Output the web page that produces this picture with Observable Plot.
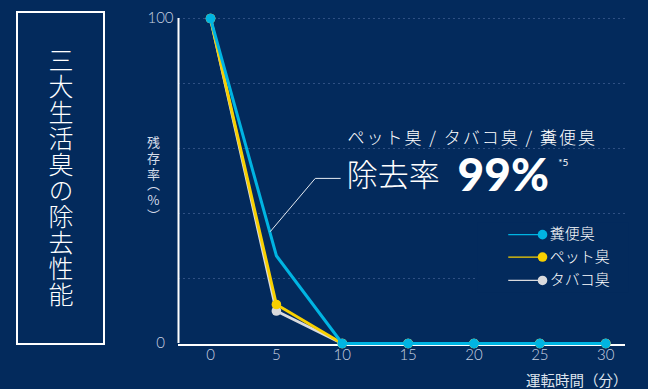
<!DOCTYPE html>
<html><head><meta charset="utf-8">
<script src="https://cdn.jsdelivr.net/npm/d3@7"></script>
<script src="https://cdn.jsdelivr.net/npm/@observablehq/plot@0.6"></script>
<style>
html,body{margin:0;padding:0;background:#032a5c;}
#wrap{position:relative;width:648px;height:389px;background:#032a5c;overflow:hidden;font-family:"Noto Sans CJK JP",sans-serif;}
#title{position:absolute;left:16px;top:11px;width:89px;height:334px;box-sizing:border-box;border:2px solid #fff;display:flex;align-items:center;justify-content:center;}
#title span{writing-mode:vertical-rl;font-size:25px;letter-spacing:1px;color:#fff;font-weight:300;line-height:1;}
#ylabel{position:absolute;left:147px;top:136px;writing-mode:vertical-rl;text-orientation:upright;font-size:13px;letter-spacing:3px;color:#d4dbe7;line-height:1;font-feature-settings:"vpal";}
#chart{position:absolute;left:0;top:0;}
</style>
</head><body>
<div id="wrap"><div id="title"><span></span></div><div id="ylabel"></div><div id="chart"></div></div>
<script>
const title = "三大生活臭の除去性能";
const yLabel = "残存率（%）";
const xLabel = "運転時間（分）";
const minutes = [0, 5, 10, 15, 20, 25, 30];
const fecal   = [100, 27, 0, 0, 0, 0, 0];
const pet     = [100, 12, 0, 0, 0, 0, 0];
const tobacco = [100, 10, 0, 0, 0, 0, 0];
const fecalMarker = [true, false, true, true, true, true, true];
const seriesNames = ["糞便臭", "ペット臭", "タバコ臭"];
const seriesColors = ["#00b4e2", "#f8d000", "#d9dadd"];
const xTicks = [0, 5, 10, 15, 20, 25, 30];
const yTicks = [0, 100];
const gridValues = [20, 40, 60, 80, 100];
const xDomain = [-2.43, 31.5];
const calloutHead = "ペット臭 / タバコ臭 / 糞便臭";
const calloutLabel = "除去率";
const calloutValue = "99%";
const calloutNote = "*5";
// callout & legend anchor points, in data units
const leaderX = [4.55, 7.95, 9.85];
const leaderY = [34.5, 50.8, 50.8];
const legendLineX = [22.6, 25.2];
const legendY = [33.5, 26.6, 19.4];
const legendBox = [{x1: 20.3, x2: 31.8, y1: 15.5, y2: 37}];

document.querySelector("#title span").textContent = title;
document.querySelector("#ylabel").textContent = yLabel;

const bg = "#032a5c";
const tickColor = "#c9d2e1";
const jp = "Noto Sans CJK JP";
const num = "Lato";
const rows = (vals) => minutes.map((m, i) => ({m, v: vals[i], i}));

const chart = Plot.plot({
  width: 648, height: 389,
  marginLeft: 178, marginRight: 23, marginTop: 18, marginBottom: 46,
  x: {domain: xDomain, axis: null},
  y: {domain: [0, 100], axis: null},
  style: {background: "transparent", overflow: "visible"},
  marks: [
    Plot.ruleY(gridValues, {x1: xDomain[0], x2: xDomain[1], stroke: "#2f5083", strokeDasharray: "2,3", strokeWidth: 1}),
    Plot.rect(legendBox, {x1: "x1", x2: "x2", y1: "y1", y2: "y2", fill: bg}),
    Plot.ruleX([xDomain[0]], {y1: 0, y2: 100, stroke: "#fff", strokeWidth: 2}),
    Plot.ruleY([0], {x1: xDomain[0], x2: xDomain[1], stroke: "#fff", strokeWidth: 2, dy: 1.5}),
    // series
    Plot.line(rows(tobacco), {x: "m", y: "v", stroke: seriesColors[2], strokeWidth: 3}),
    Plot.dot(rows(tobacco), {x: "m", y: "v", fill: seriesColors[2], r: 4.8}),
    Plot.line(rows(pet), {x: "m", y: "v", stroke: seriesColors[1], strokeWidth: 3}),
    Plot.dot(rows(pet), {x: "m", y: "v", fill: seriesColors[1], r: 4.8}),
    Plot.line(rows(fecal), {x: "m", y: "v", stroke: seriesColors[0], strokeWidth: 3}),
    Plot.dot(rows(fecal).filter(d => fecalMarker[d.i]), {x: "m", y: "v", fill: seriesColors[0], r: 4.8}),
    // ticks
    Plot.text(yTicks, {y: d => d, frameAnchor: "left", dx: -18, textAnchor: "middle", fill: tickColor, fontSize: 15, fontFamily: num, fontWeight: 300}),
    Plot.text(xTicks, {x: d => d, frameAnchor: "bottom", dy: 16, fill: tickColor, fontSize: 15, fontFamily: num, fontWeight: 300}),
    Plot.text([xLabel], {frameAnchor: "bottom-right", dx: 2, dy: 42, textAnchor: "end", fill: "#dfe5ee", fontSize: 14.5, fontFamily: jp}),
    // callout
    Plot.line(leaderX.map((x, i) => ({x, y: leaderY[i]})), {x: "x", y: "y", stroke: "#e6ebf2", strokeWidth: 1}),
    Plot.text([calloutHead], {x: 10.4, y: 63.2, textAnchor: "start", fill: "#fff", fontSize: 17, fontFamily: jp, fontWeight: 300}),
    Plot.text([calloutLabel], {x: 10.35, y: 51.5, textAnchor: "start", fill: "#fff", fontSize: 31, fontFamily: jp, fontWeight: 300}),
    Plot.text([calloutValue], {x: 18.75, y: 51.5, textAnchor: "start", fill: "#fff", fontSize: 46, fontFamily: num, fontWeight: 900}),
    Plot.text([calloutNote], {x: 26.4, y: 55.5, textAnchor: "start", fill: "#fff", fontSize: 10, fontFamily: num}),
    // legend
    Plot.link(seriesNames, {x1: legendLineX[0], x2: legendLineX[1], y1: (d, i) => legendY[i], y2: (d, i) => legendY[i], stroke: (d, i) => seriesColors[i], strokeWidth: 1.3}),
    Plot.dot(seriesNames, {x: legendLineX[1], y: (d, i) => legendY[i], fill: (d, i) => seriesColors[i], r: 4.8}),
    Plot.text(seriesNames, {x: 25.75, y: (d, i) => legendY[i], textAnchor: "start", fill: "#fff", fontSize: 15, fontFamily: jp, fontWeight: 300})
  ]
});
d3.select(chart).selectAll("text").filter(function() { return this.textContent === calloutHead; }).attr("letter-spacing", 2.0);
document.getElementById("chart").appendChild(chart);
</script>
</body></html>
